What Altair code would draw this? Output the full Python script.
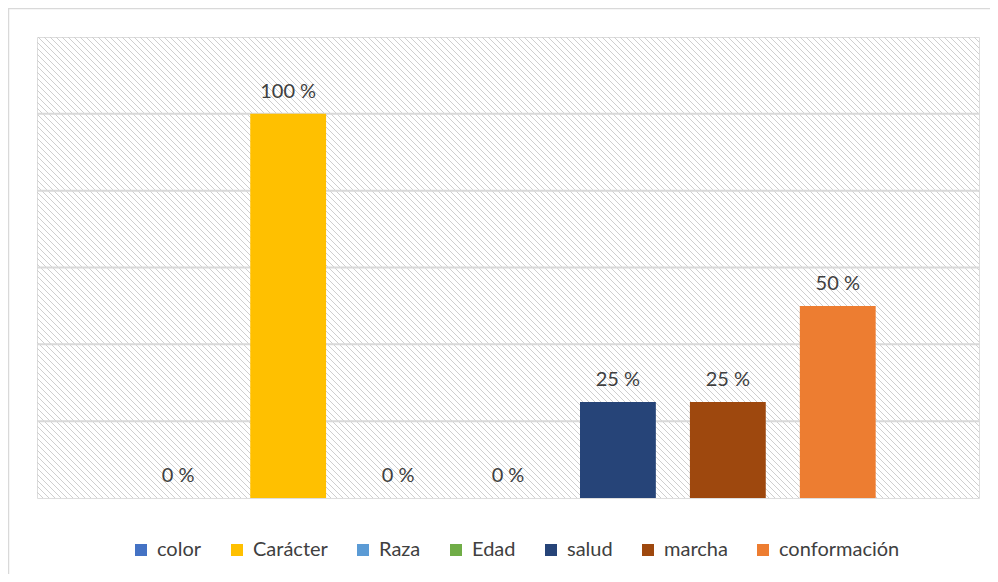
import altair as alt
import pandas as pd
import numpy as np

categories = ["color", "Carácter", "Raza", "Edad", "salud", "marcha", "conformación"]
values = [0, 100, 0, 0, 25, 25, 50]
colors = ["#4472C4", "#FFC000", "#5B9BD5", "#70AD47", "#264478", "#9E480E", "#ED7D31"]
grid_values = [20, 40, 60, 80, 100]

W, H = 942, 461
FONT = "Lato"

df = pd.DataFrame({"cat": categories, "v": values})
grid_df = pd.DataFrame({"g": grid_values})

# decorative hatch pattern of the plot background (style, not data)
hx = np.arange(-H, W + 6, 6)
hatch_df = pd.DataFrame({"x0": hx, "x1": hx + H, "yt": 120, "yb": 0})

yscale = alt.Scale(domain=[0, 120], nice=False, zero=True)
xscale = alt.Scale(domain=categories, paddingInner=0.31, paddingOuter=0.94)

frame = alt.Chart(pd.DataFrame({"a": [0]})).mark_rect(
    fill=None, stroke="#d9d9d9", strokeWidth=1.5, clip=False
).encode(
    x=alt.value(-28.5), x2=alt.value(1000), y=alt.value(-28.5), y2=alt.value(620)
)

hatch = alt.Chart(hatch_df).mark_rule(
    color="#cfcfcf", strokeWidth=1, clip=True
).encode(
    x=alt.X("x0:Q", scale=alt.Scale(domain=[0, W], nice=False, zero=False), axis=None),
    x2="x1:Q",
    y=alt.Y("yt:Q", scale=yscale, axis=None),
    y2="yb:Q",
)

grid = alt.Chart(grid_df).mark_rule(color="#d9d9d9", strokeWidth=2).encode(
    y=alt.Y("g:Q", scale=yscale, axis=None),
    x=alt.value(0), x2=alt.value(W),
)

bars = alt.Chart(df).mark_bar().encode(
    x=alt.X("cat:N", scale=xscale, axis=None, sort=categories),
    y=alt.Y("v:Q", scale=yscale, axis=None),
    color=alt.Color(
        "cat:N",
        scale=alt.Scale(domain=categories, range=colors),
        sort=categories,
        legend=alt.Legend(
            title=None, orient="none", legendX=94, legendY=503,
            direction="horizontal", columns=7,
            symbolType="square", symbolSize=144, symbolStrokeWidth=0,
            labelFont=FONT, labelFontSize=20, labelColor="#404040",
            labelOffset=6, columnPadding=25,
        ),
    ),
)

labels = alt.Chart(df).transform_calculate(
    lab="datum.v + ' %'"
).mark_text(
    font=FONT, fontSize=20, color="#404040", baseline="alphabetic", dy=-16
).encode(
    x=alt.X("cat:N", scale=xscale, axis=None, sort=categories),
    y=alt.Y("v:Q", scale=yscale, axis=None),
    text="lab:N",
)

chart = alt.layer(frame, hatch, grid, alt.layer(bars, labels)).resolve_scale(
    x="independent"
).properties(
    width=W, height=H,
    autosize=alt.AutoSizeParams(type="none"),
    padding={"left": 29, "top": 29, "right": 11, "bottom": 76},
).configure_view(
    stroke="#d9d9d9", strokeWidth=2
).configure(background="white")

chart.save("out.html", embed_options={"renderer": "svg", "actions": False})
